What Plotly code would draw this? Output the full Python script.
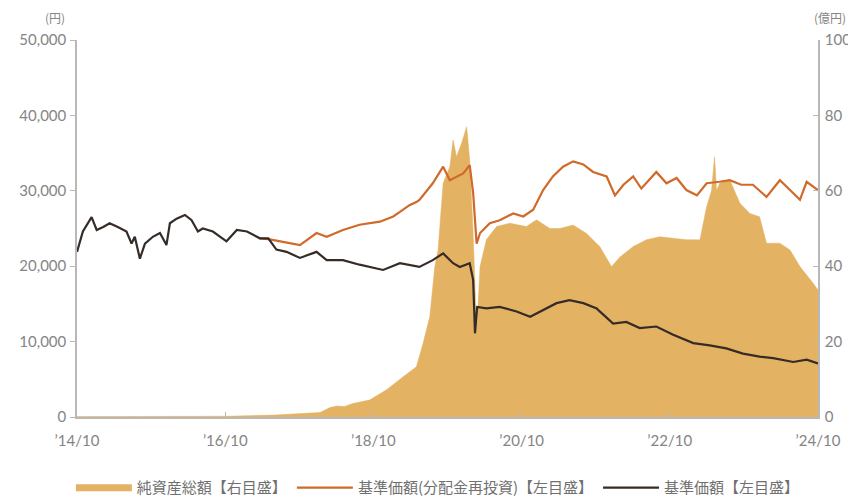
import plotly.graph_objects as go

# 純資産総額【右目盛】 (億円)
nav_dates = ["2014-10-01", "2015-10-01", "2016-10-01", "2017-06-01", "2017-10-04", "2018-01-11",
             "2018-03-01", "2018-04-04", "2018-05-12", "2018-06-22", "2018-09-12", "2018-12-05",
             "2019-02-25", "2019-05-01", "2019-06-03", "2019-07-06", "2019-07-31", "2019-08-16",
             "2019-09-10", "2019-10-13", "2019-10-29", "2019-11-15", "2019-12-10", "2020-01-04",
             "2020-01-19", "2020-02-05", "2020-02-22", "2020-03-10", "2020-04-10", "2020-05-30",
             "2020-08-04", "2020-10-25", "2020-12-13", "2021-02-17", "2021-04-07", "2021-06-12",
             "2021-08-17", "2021-10-21", "2021-12-18", "2022-01-30", "2022-04-04", "2022-06-08",
             "2022-08-13", "2022-10-18", "2022-12-22", "2023-02-27", "2023-04-01", "2023-04-25",
             "2023-05-10", "2023-05-20", "2023-06-04", "2023-07-24", "2023-09-12", "2023-10-31",
             "2023-12-18", "2024-01-21", "2024-03-27", "2024-05-16", "2024-07-04", "2024-09-07",
             "2024-10-01"]
nav_values = [0.1, 0.1, 0.2, 0.5, 0.8, 1.2,
              2.5, 2.9, 2.8, 3.6, 4.5, 7.2,
              10.7, 13.3, 19.5, 26.6, 39.9, 44.3,
              62.0, 66.4, 73.5, 69.0, 72.6, 77.0,
              68.2, 48.7, 22.3, 39.9, 47.0, 50.5,
              51.4, 50.5, 52.3, 50.0, 50.0, 50.9,
              48.7, 45.2, 39.9, 42.5, 45.2, 47.0,
              47.8, 47.4, 47.0, 47.0, 55.8, 60.0,
              69.0, 60.0, 62.0, 62.9, 56.7, 54.0,
              53.1, 46.1, 46.1, 44.3, 39.9, 35.5,
              33.7]

# 基準価額(分配金再投資)【左目盛】 (円)
reinv_dates = ["2017-03-20", "2017-05-01", "2017-06-10", "2017-10-04", "2017-12-25", "2018-02-13",
               "2018-05-04", "2018-07-25", "2018-11-02", "2019-01-07", "2019-02-09", "2019-03-28",
               "2019-05-01", "2019-05-16", "2019-07-21", "2019-09-10", "2019-10-13", "2019-11-15",
               "2019-12-18", "2020-01-19", "2020-02-05", "2020-02-22", "2020-03-10", "2020-04-27",
               "2020-06-15", "2020-08-21", "2020-10-09", "2020-11-27", "2021-01-15", "2021-03-04",
               "2021-04-23", "2021-06-12", "2021-08-01", "2021-09-18", "2021-11-24", "2022-01-04",
               "2022-02-15", "2022-04-04", "2022-05-14", "2022-07-27", "2022-09-15", "2022-11-04",
               "2022-12-22", "2023-02-12", "2023-04-01", "2023-06-04", "2023-07-24", "2023-09-18",
               "2023-11-15", "2024-01-21", "2024-03-27", "2024-05-16", "2024-07-04", "2024-08-06",
               "2024-10-01"]
reinv_values = [23700, 23600, 23400, 22800, 24400, 23900,
                24800, 25500, 25900, 26600, 27200, 28100,
                28500, 28800, 31000, 33200, 31400, 31900,
                32300, 33400, 29700, 23000, 24400, 25700,
                26100, 27000, 26600, 27500, 30100, 31900,
                33200, 33900, 33500, 32500, 31900, 29400,
                30800, 31900, 30300, 32500, 31000, 31700,
                30100, 29400, 31000, 31200, 31400, 30800,
                30800, 29200, 31400, 30100, 28800, 31200,
                30100]

# 基準価額【左目盛】 (円)
price_dates = ["2014-10-01", "2014-10-30", "2014-12-12", "2015-01-06", "2015-02-07", "2015-03-11",
               "2015-04-20", "2015-06-02", "2015-06-27", "2015-07-13", "2015-08-07", "2015-09-01",
               "2015-10-10", "2015-11-14", "2015-12-16", "2016-01-02", "2016-02-04", "2016-03-16",
               "2016-04-18", "2016-05-19", "2016-06-12", "2016-08-01", "2016-10-07", "2016-11-27",
               "2017-01-16", "2017-03-20", "2017-05-01", "2017-06-10", "2017-07-30", "2017-10-04",
               "2017-12-25", "2018-02-13", "2018-05-04", "2018-07-25", "2018-11-18", "2019-02-09",
               "2019-05-16", "2019-07-21", "2019-09-10", "2019-10-29", "2019-12-01", "2020-01-19",
               "2020-02-05", "2020-02-14", "2020-02-25", "2020-04-10", "2020-06-15", "2020-09-06",
               "2020-11-12", "2021-01-15", "2021-03-22", "2021-05-25", "2021-08-01", "2021-10-06",
               "2021-10-21", "2021-12-26", "2022-03-01", "2022-05-06", "2022-07-27", "2022-10-18",
               "2023-01-25", "2023-04-16", "2023-07-07", "2023-09-27", "2023-12-18", "2024-02-23",
               "2024-06-01", "2024-08-06", "2024-10-01"]
price_values = [21900, 24600, 26500, 24800, 25200, 25700,
                25200, 24600, 23000, 23900, 21000, 23000,
                23900, 24400, 22800, 25700, 26300, 26800,
                26100, 24600, 25000, 24600, 23300, 24800,
                24600, 23700, 23700, 22200, 21900, 21100,
                21900, 20800, 20800, 20200, 19500, 20400,
                19900, 20800, 21700, 20400, 19900, 20400,
                18200, 11100, 14600, 14400, 14600, 14000,
                13300, 14200, 15100, 15500, 15100, 14400,
                14000, 12400, 12600, 11800, 12000, 10900,
                9800, 9500, 9100, 8400, 8000, 7800,
                7300, 7600, 7100]

x_tick_vals = ["2014-10-01", "2016-10-01", "2018-10-01", "2020-10-01", "2022-10-01", "2024-10-01"]
x_tick_text = ["’14/10", "’16/10", "’18/10", "’20/10", "’22/10", "’24/10"]
left_ticks = [0, 10000, 20000, 30000, 40000, 50000]
left_text = ["0", "10,000", "20,000", "30,000", "40,000", "50,000"]
right_ticks = [0, 20, 40, 60, 80, 100]

AREA = "#E3B263"
ORANGE = "#CF6A2A"
DARK = "#352C28"
GRID = "#B8B8B8"
TXT = "#858585"
JP = "Noto Sans CJK JP"
NUM = "Lato, 'Open Sans', sans-serif"

fig = go.Figure()
# Area on base axis (right side) so lines on overlay axis draw above it
fig.add_trace(go.Scatter(x=nav_dates, y=nav_values, mode="lines", fill="tozeroy",
                         fillcolor=AREA, line=dict(color=AREA, width=0.5),
                         showlegend=False, legendgroup="nav", yaxis="y", hoverinfo="skip"))
fig.add_trace(go.Scatter(x=[None], y=[None], mode="lines", name="純資産総額【右目盛】",
                         line=dict(color=AREA, width=7), legendgroup="nav", yaxis="y"))
fig.add_trace(go.Scatter(x=reinv_dates, y=reinv_values, mode="lines",
                         name="基準価額(分配金再投資)【左目盛】",
                         line=dict(color=ORANGE, width=2.2), yaxis="y2"))
fig.add_trace(go.Scatter(x=price_dates, y=price_values, mode="lines",
                         name="基準価額【左目盛】",
                         line=dict(color=DARK, width=2.2), yaxis="y2"))

fig.update_layout(
    width=848, height=492,
    margin=dict(l=69, r=38, t=32, b=83, autoexpand=False),
    paper_bgcolor="white", plot_bgcolor="white",
    font=dict(family=NUM, color=TXT, size=14),
    xaxis=dict(type="date", range=["2014-10-01", "2024-10-01"],
               tickvals=x_tick_vals, ticktext=x_tick_text, automargin=False,
               showgrid=False, zeroline=False, showline=True, linecolor=GRID, linewidth=1.5,
               ticks="inside", ticklen=5, tickcolor=GRID, ticklabelstandoff=9,
               tickfont=dict(family=NUM, size=15, color=TXT)),
    yaxis=dict(range=[0, 100], side="right", tickvals=right_ticks, automargin=False,
               showgrid=False, zeroline=False, showline=True, linecolor=GRID, linewidth=1.5,
               ticks="inside", ticklen=5, tickcolor=GRID, ticklabelstandoff=2,
               tickfont=dict(family=NUM, size=15, color=TXT)),
    yaxis2=dict(range=[0, 50000], side="left", overlaying="y", tickvals=left_ticks,
                ticktext=left_text, automargin=False,
                showgrid=False, zeroline=False, showline=True, linecolor=GRID, linewidth=1.5,
                ticks="outside", ticklen=5, tickcolor=GRID, ticklabelstandoff=1,
                tickfont=dict(family=NUM, size=15, color=TXT)),
    legend=dict(orientation="h", x=0.487, xanchor="center", y=-0.188, yanchor="middle",
                font=dict(family=JP, size=15, color="#707070"), itemwidth=56,
                tracegroupgap=0, traceorder="normal"),
    showlegend=True,
)

fig.add_annotation(text="(円)", xref="paper", yref="paper", x=-0.0297, y=1.061,
                   xanchor="center", yanchor="middle",
                   showarrow=False, font=dict(family=JP, size=12, color=TXT))
fig.add_annotation(text="(億円)", xref="paper", yref="paper", x=1.016, y=1.061,
                   xanchor="center", yanchor="middle",
                   showarrow=False, font=dict(family=JP, size=12, color=TXT))

fig.write_html("out.html")
